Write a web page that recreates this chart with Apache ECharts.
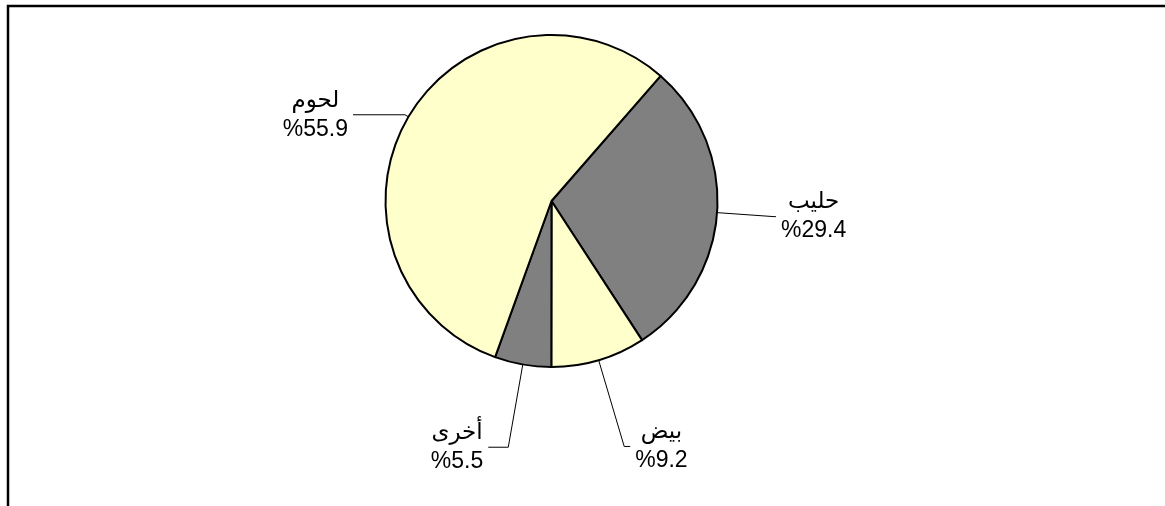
<!DOCTYPE html>
<html>
<head>
<meta charset="utf-8">
<script src="https://cdn.jsdelivr.net/npm/echarts@6/dist/echarts.min.js"></script>
<style>
html,body{margin:0;padding:0;background:#fff;}
#c{width:1165px;height:506px;}
</style>
</head>
<body>
<div id="c"></div>
<script>
// Data
const categories = ['حليب', 'بيض', 'أخرى', 'لحوم'];
const values = [29.4, 9.2, 5.5, 55.9];
const colors = ['#808080', '#FFFFCC', '#808080', '#FFFFCC'];
const lineLengths = [57, 90, 84, 4];
const lineLengths2 = [2, 6, 20, 52];

const chart = echarts.init(document.getElementById('c'), null, {renderer: 'canvas'});
const data = categories.map((name, i) => ({
  name: name,
  value: values[i],
  itemStyle: {color: colors[i]},
  labelLine: {length: lineLengths[i], length2: lineLengths2[i]}
}));

chart.setOption({
  backgroundColor: '#ffffff',
  animation: false,
  graphic: [{
    type: 'polyline',
    shape: {points: [[8, 506], [8, 6], [1165, 6]]},
    style: {stroke: '#000', lineWidth: 2.5, fill: null}
  }],
  series: [{
    type: 'pie',
    center: [551.5, 201],
    radius: [0, 166],
    startAngle: 48.9,
    clockwise: true,
    avoidLabelOverlap: false,
    data: data,
    itemStyle: {borderColor: '#000', borderWidth: 2},
    emphasis: {disabled: true},
    label: {
      show: true,
      position: 'outside',
      alignTo: 'none',
      distanceToLabelLine: 5,
      formatter: function (p) { return '{a|' + p.name + '}\n{a|%' + p.value + '}'; },
      rich: {
        a: {align: 'center', fontSize: 23, lineHeight: 29, color: '#000',
            fontFamily: 'Liberation Sans, Arial, DejaVu Sans, sans-serif'}
      }
    },
    labelLine: {
      show: true,
      smooth: false,
      lineStyle: {color: '#000', width: 1}
    }
  }]
});
</script>
</body>
</html>
